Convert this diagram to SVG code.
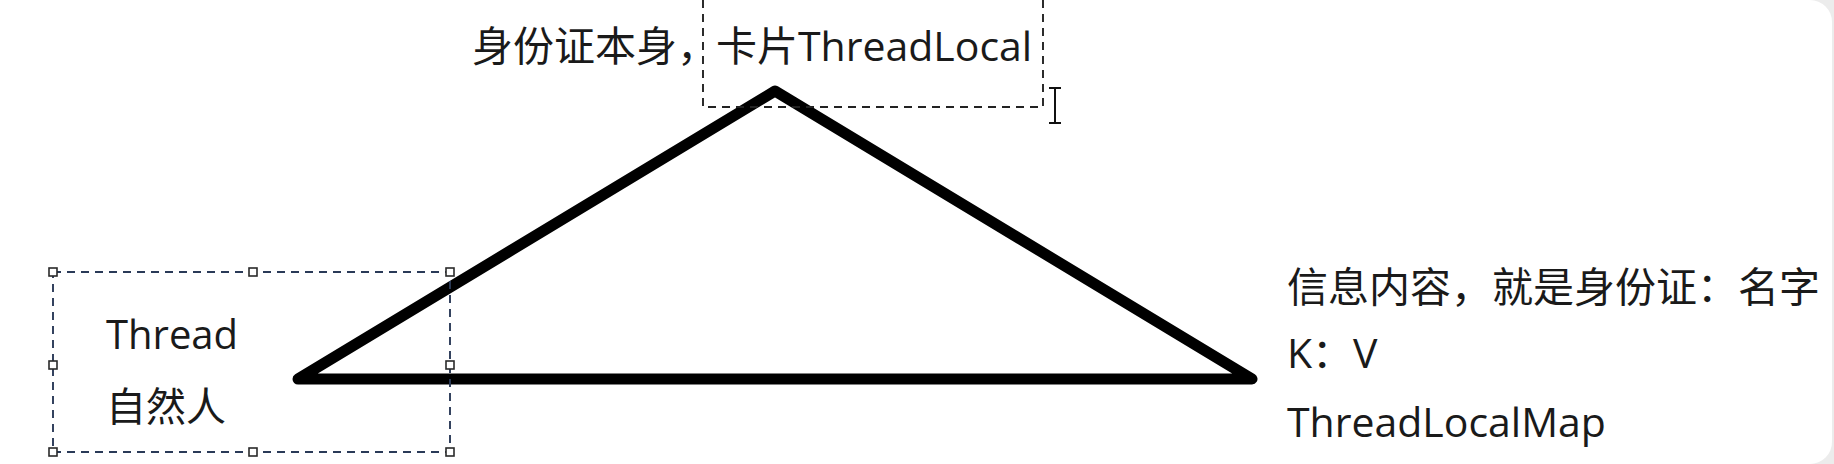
<svg xmlns="http://www.w3.org/2000/svg" width="1834" height="464" viewBox="0 0 1834 464">
  <style>
    .t { font-family: "Open Sans", "Noto Sans CJK SC", sans-serif; font-size: 40px; fill: #1a1a1a; }
    .tr { font-size: 41px; }
    .tt { font-size: 41px; }
    .sel { fill: none; stroke: #2a3a58; stroke-width: 1.9; stroke-dasharray: 8 6; }
    .selk { fill: none; stroke: #222; stroke-width: 1.9; stroke-dasharray: 8 6; }
    .h { fill: #fff; stroke: #2a2a2a; stroke-width: 1.6; }
    .edge { fill: none; stroke: #000; stroke-width: 11; stroke-linejoin: round; stroke-linecap: round; }
  </style>
  <rect x="0" y="0" width="1834" height="464" fill="#ececec"/>
  <rect x="-30" y="0" width="1862" height="464" rx="22" ry="22" fill="#ffffff"/>

  <g id="connectors">
    <polygon class="edge" points="298,379 775,91 1252,379"/>
  </g>

  <g id="threadlocal-node">
    <text class="t tt" x="472" y="61">身份证本身，</text>
    <text class="t tt" x="716" y="61">卡片ThreadLocal</text>
    <polyline class="selk" points="703,0 703,107 1043,107 1043,0"/>
    <g id="cursor" fill="none" stroke="#111" stroke-width="2">
      <line x1="1055" y1="88" x2="1055" y2="123"/>
      <line x1="1049" y1="88" x2="1061" y2="88"/>
      <line x1="1049" y1="123" x2="1061" y2="123"/>
    </g>
  </g>

  <g id="thread-node">
    <rect class="sel" x="53" y="272" width="397" height="180"/>
    <text class="t" x="106" y="349">Thread</text>
    <text class="t" x="106" y="421">自然人</text>
    <rect class="h" x="49" y="268" width="8" height="8"/>
    <rect class="h" x="249" y="268" width="8" height="8"/>
    <rect class="h" x="446" y="268" width="8" height="8"/>
    <rect class="h" x="49" y="361" width="8" height="8"/>
    <rect class="h" x="446" y="361" width="8" height="8"/>
    <rect class="h" x="49" y="448" width="8" height="8"/>
    <rect class="h" x="249" y="448" width="8" height="8"/>
    <rect class="h" x="446" y="448" width="8" height="8"/>
  </g>

  <g id="map-node">
    <text class="t tr" x="1287" y="302">信息内容，就是身份证：名字</text>
    <text class="t tr" x="1287" y="368">K：V</text>
    <text class="t tr" x="1287" y="437">ThreadLocalMap</text>
  </g>
</svg>
